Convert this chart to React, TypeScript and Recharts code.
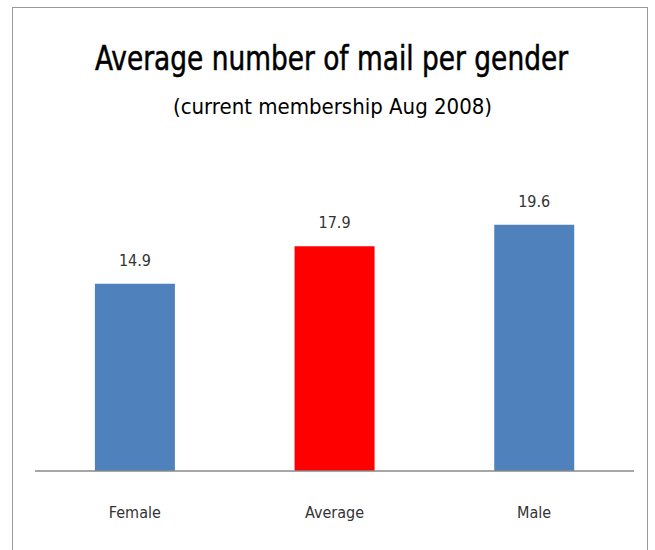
import { BarChart, Bar, XAxis, YAxis, Cell, LabelList } from "recharts";

const categories = ["Female", "Average", "Male"];
const mailCounts = [14.9, 17.9, 19.6];
const barColors = ["#4F81BD", "#FF0000", "#4F81BD"];

const data = categories.map((name, i) => ({ name, value: mailCounts[i] }));

const font = '"DejaVu Sans Condensed", "Liberation Sans", Arial, sans-serif';

export default function App() {
  return (
    <div style={{ position: "absolute", left: 0, top: 0, width: 655, height: 550, overflow: "hidden", background: "#fff", fontFamily: font }}>
      <div style={{ position: "absolute", left: 12, top: 7, width: 636, height: 560, border: "1px solid #9a9a9a", boxSizing: "border-box" }} />
      <div style={{ position: "absolute", left: 0, top: 39, width: 663, textAlign: "center", fontSize: 33, color: "#000", lineHeight: "40px", transform: "scaleX(0.89)", WebkitTextStroke: "0.5px #000" }}>
        Average number of mail per gender
      </div>
      <div style={{ position: "absolute", left: 0, top: 93, width: 665, textAlign: "center", fontSize: 22, color: "#000", lineHeight: "28px" }}>
        (current membership Aug 2008)
      </div>
      <div style={{ position: "absolute", left: 0, top: 0 }}>
        <BarChart width={655} height={550} data={data} margin={{ top: 157, right: 21, bottom: 19, left: 35 }} barCategoryGap="30%">
          <XAxis
            dataKey="name"
            height={60}
            axisLine={{ stroke: "#888", strokeWidth: 1.5 }}
            tickLine={false}
            tickMargin={30}
            tick={{ fill: "#333", fontSize: 16, fontFamily: font }}
          />
          <YAxis hide domain={[0, 25]} />
          <Bar dataKey="value" isAnimationActive={false}>
            {data.map((d, i) => (
              <Cell key={d.name} fill={barColors[i]} />
            ))}
            <LabelList dataKey="value" position="top" offset={18} fill="#333" fontSize={16} fontFamily={font} />
          </Bar>
        </BarChart>
      </div>
    </div>
  );
}
